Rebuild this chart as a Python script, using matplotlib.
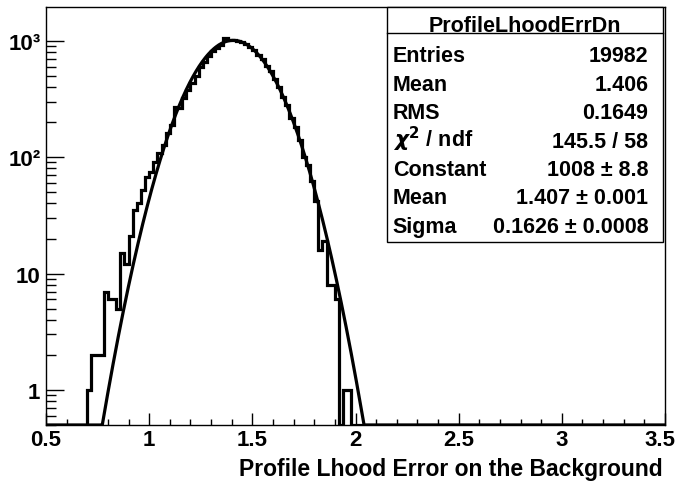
import numpy as np
import matplotlib
matplotlib.use('Agg')
import matplotlib.pyplot as plt
import matplotlib.transforms as mtransforms
from matplotlib.patches import Rectangle
from matplotlib.ticker import NullFormatter, MultipleLocator

plt.rcParams['font.family'] = ['Liberation Sans', 'DejaVu Sans']
plt.rcParams['font.weight'] = 'bold'

# histogram: 0.5 .. 3.5 in bins of 0.02, non-empty part starts at 0.70
x_lo, x_hi, n_bins = 0.5, 3.5, 150
first_bin = 0.70
counts = [1, 2, 2, 2, 7, 6, 6, 5, 15, 12,
          21, 35, 40, 52, 67, 74, 90, 108, 126, 160,
          190, 270, 262, 320, 375, 430, 500, 590, 660, 740,
          810, 860, 920, 1050, 1010, 1020, 990, 980, 940, 880,
          830, 760, 700, 610, 550, 465, 400, 330, 280, 215,
          180, 140, 100, 85, 62, 42, 16, 19, 8, 8,
          6, 0, 1, 1]

# gaussian fit parameters from the stats box
fit_const, fit_mean, fit_sigma = 1008, 1.407, 0.1626

stats_title = 'ProfileLhoodErrDn'
stats_names = ['Entries', 'Mean', 'RMS', r'$\chi^{2}$ / ndf', 'Constant', 'Mean', 'Sigma']
stats_values = ['19982', '1.406', '0.1649', '145.5 / 58', '1008 ± 8.8',
                '1.407 ± 0.001', '0.1626 ± 0.0008']

ymin, ymax = 0.5, 1950

edges = np.linspace(x_lo, x_hi, n_bins + 1)
full = np.zeros(n_bins)
i0 = int(round((first_bin - x_lo) / 0.02))
full[i0:i0 + len(counts)] = counts

W, H = 677, 485
fig = plt.figure(figsize=(W / 100, H / 100), dpi=100)
ax = fig.add_axes([46 / W, 1 - 426 / H, (665 - 46) / W, (426 - 8) / H])

ax.stairs(np.maximum(full, ymin), edges, color='black', lw=2.3, baseline=None)

xf = np.linspace(x_lo, x_hi, 3000)
yf = fit_const * np.exp(-0.5 * ((xf - fit_mean) / fit_sigma) ** 2)
ax.plot(xf, np.maximum(yf, ymin), color='black', lw=2.3)

ax.set_yscale('log')
ax.set_xlim(x_lo, x_hi)
ax.set_ylim(ymin, ymax)
ax.set_yticks([1, 10, 100, 1000], ['1', '10', '10²', '10³'])
ax.yaxis.set_minor_formatter(NullFormatter())
ax.xaxis.set_minor_locator(MultipleLocator(0.1))
ax.set_xticks(np.arange(0.5, 3.51, 0.5), ['0.5', '1', '1.5', '2', '2.5', '3', '3.5'])
ax.tick_params(axis='x', which='major', direction='in', length=9, width=1, labelsize=16, pad=3)
ax.tick_params(axis='x', which='minor', direction='in', length=4.5, width=1)
ax.tick_params(axis='y', which='major', direction='in', length=13, width=1, labelsize=16, pad=4)
ax.tick_params(axis='y', which='minor', direction='in', length=7, width=1)
for s in ax.spines.values():
    s.set_linewidth(1)

# last x label sits against the right edge, nudge it inside like the original
last = ax.get_xticklabels()[-1]
last.set_transform(last.get_transform() + mtransforms.ScaledTranslation(-0.05, 0, fig.dpi_scale_trans))

fig.text(663 / W, 1 - 470 / H, 'Profile Lhood Error on the Background',
         ha='right', va='center', fontsize=16.5, fontweight='bold')

# stats box
bx0, bx1, by0, by1 = 387.5, 663, 8, 243
tr = fig.transFigure
fig.patches.append(Rectangle((bx0 / W, 1 - by1 / H), (bx1 - bx0) / W, (by1 - by0) / H,
                             transform=tr, facecolor='white', edgecolor='black', lw=1, zorder=5))
fig.lines.append(plt.Line2D([bx0 / W, bx1 / W], [1 - 33.5 / H, 1 - 33.5 / H],
                            transform=tr, color='black', lw=1, zorder=6))
fig.text((bx0 + bx1) / 2 / W, 1 - 32.5 / H, stats_title, ha='center', va='baseline',
         fontsize=15.5, fontweight='bold', zorder=7)
for i, (name, val) in enumerate(zip(stats_names, stats_values)):
    yb = 1 - (62.5 + 28.4 * i) / H
    fig.text(392.7 / W, yb, name, ha='left', va='baseline', fontsize=15.5, fontweight='bold', zorder=7)
    fig.text(648.3 / W, yb, val, ha='right', va='baseline', fontsize=15.5, fontweight='bold', zorder=7)

fig.savefig('out.png', dpi=100)
